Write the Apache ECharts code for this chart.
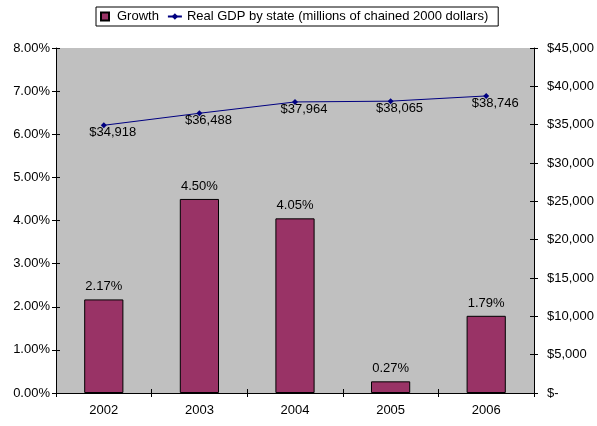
<!DOCTYPE html>
<html>
<head>
<meta charset="utf-8">
<script src="https://cdn.jsdelivr.net/npm/echarts@6/dist/echarts.min.js"></script>
<style>
  html, body { margin: 0; padding: 0; background: #fff; }
  #chart { width: 597px; height: 426px; }
</style>
</head>
<body>
<div id="chart"></div>
<script>
// 数据
const years = ['2002', '2003', '2004', '2005', '2006'];
const growth = [2.17, 4.50, 4.05, 0.27, 1.79];
const realGdp = [34918, 36488, 37964, 38065, 38746];

const font = 'Liberation Sans, Arial, sans-serif';
const fs = 13;

// 刻度线两侧都显示: 再叠一个只画内侧刻度的轴
const innerTick = { show: true, inside: true, length: 4, lineStyle: { color: '#000' } };

let myChart = echarts.init(document.getElementById('chart'));
myChart.setOption({
    animation: false,
    textStyle: { fontFamily: font },
    legend: {
        top: 7,
        left: 96,
        padding: [3, 10, 3, 4],
        borderColor: '#000',
        borderWidth: 1,
        itemGap: 8,
        itemWidth: 14,
        itemHeight: 8,
        textStyle: { fontSize: fs, color: '#000', fontFamily: font },
        data: [
            { name: 'Growth', icon: 'path://M0,0L10,0L10,10L0,10Z' },
            { name: 'Real GDP by state (millions of chained 2000 dollars)' }
        ]
    },
    grid: { left: 56, right: 62, top: 48, bottom: 33, backgroundColor: '#C0C0C0', show: true, borderWidth: 0 },
    xAxis: [
        {
            type: 'category',
            data: years,
            axisLine: { lineStyle: { color: '#000' } },
            axisTick: { show: true, alignWithLabel: false, length: 4, lineStyle: { color: '#000' } },
            axisLabel: { color: '#000', fontSize: fs, margin: 11, fontFamily: font }
        },
        {
            type: 'category',
            data: years,
            position: 'bottom',
            axisLine: { show: false },
            axisTick: innerTick,
            axisLabel: { show: false }
        }
    ],
    yAxis: [
        {
            type: 'value',
            min: 0, max: 8, interval: 1,
            axisLine: { show: true, lineStyle: { color: '#000' } },
            axisTick: { show: true, length: 4, lineStyle: { color: '#000' } },
            splitLine: { show: false },
            axisLabel: { color: '#000', fontSize: fs, margin: 6, fontFamily: font,
                formatter: v => v.toFixed(2) + '%' }
        },
        {
            type: 'value',
            min: 0, max: 45000, interval: 5000,
            axisLine: { show: true, lineStyle: { color: '#000' } },
            axisTick: { show: true, length: 4, lineStyle: { color: '#000' } },
            splitLine: { show: false },
            axisLabel: { color: '#000', fontSize: fs, margin: 13, fontFamily: font,
                formatter: v => v === 0 ? '$-' : '$' + v.toLocaleString('en-US') }
        },
        {
            type: 'value', position: 'left',
            min: 0, max: 8, interval: 1,
            axisLine: { show: false }, axisTick: innerTick,
            axisLabel: { show: false }, splitLine: { show: false }
        },
        {
            type: 'value', position: 'right',
            min: 0, max: 45000, interval: 5000,
            axisLine: { show: false }, axisTick: innerTick,
            axisLabel: { show: false }, splitLine: { show: false }
        }
    ],
    series: [
        {
            name: 'Growth',
            type: 'bar',
            data: growth,
            barWidth: '41%',
            itemStyle: { color: '#993366', borderColor: '#000', borderWidth: 1 },
            label: { show: true, position: 'top', distance: 6, color: '#000', fontSize: fs,
                fontFamily: font, formatter: p => p.value.toFixed(2) + '%' }
        },
        {
            name: 'Real GDP by state (millions of chained 2000 dollars)',
            type: 'line',
            yAxisIndex: 1,
            data: realGdp,
            symbol: 'diamond',
            symbolSize: 6,
            itemStyle: { color: '#000080' },
            lineStyle: { color: '#000080', width: 1 },
            label: { show: true, position: 'bottom', distance: 0, offset: [9, -2], color: '#000', fontSize: fs,
                fontFamily: font, formatter: p => '$' + p.value.toLocaleString('en-US') }
        }
    ]
});
</script>
</body>
</html>
